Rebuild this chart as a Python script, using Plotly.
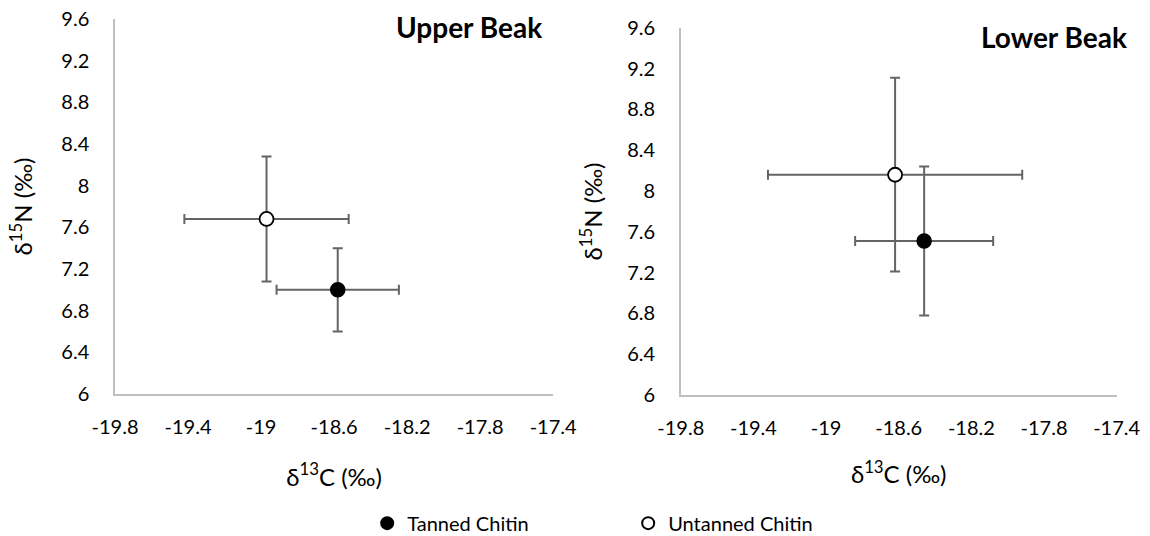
import plotly.graph_objects as go

# ---- data ----
series_names = ["Tanned Chitin", "Untanned Chitin"]

upper_c = [-18.58, -18.97]
upper_n = [7.00, 7.68]
upper_c_err = [0.335, 0.45]
upper_n_err = [0.40, 0.60]

lower_c = [-18.46, -18.62]
lower_n = [7.51, 8.16]
lower_c_err = [0.38, 0.70]
lower_n_err = [0.73, 0.95]

x_ticks = [-19.8, -19.4, -19.0, -18.6, -18.2, -17.8, -17.4]
x_tick_text = ["-19.8", "-19.4", "-19", "-18.6", "-18.2", "-17.8", "-17.4"]
y_ticks = [6.0, 6.4, 6.8, 7.2, 7.6, 8.0, 8.4, 8.8, 9.2, 9.6]
y_tick_text = ["6", "6.4", "6.8", "7.2", "7.6", "8", "8.4", "8.8", "9.2", "9.6"]

panel_titles = ["Upper Beak", "Lower Beak"]
x_title = "δ<sup>13</sup>C (‰)"
y_title = "δ<sup>15</sup>N (‰)"

FONT = "Lato"
ERR_COLOR = "#646464"
AXIS_COLOR = "#bfbfbf"

marker_styles = [
    dict(color="black", size=14, line=dict(color="black", width=1.5)),
    dict(color="white", size=14, line=dict(color="black", width=1.8)),
]

fig = go.Figure()

panels = [
    (upper_c, upper_n, upper_c_err, upper_n_err, "x", "y"),
    (lower_c, lower_n, lower_c_err, lower_n_err, "x2", "y2"),
]

for p, (cx, ny, cerr, nerr, xa, ya) in enumerate(panels):
    for i, name in enumerate(series_names):
        fig.add_trace(go.Scatter(
            x=[cx[i]], y=[ny[i]],
            mode="markers",
            name=name,
            legendgroup=name,
            showlegend=(p == 0),
            marker=marker_styles[i],
            error_x=dict(type="data", array=[cerr[i]], color=ERR_COLOR,
                         thickness=2, width=5),
            error_y=dict(type="data", array=[nerr[i]], color=ERR_COLOR,
                         thickness=2, width=5),
            xaxis=xa, yaxis=ya,
        ))


def x_axis(standoff):
    return dict(
        range=[-19.8, -17.4], tickvals=x_ticks, ticktext=x_tick_text,
        showgrid=False, zeroline=False, showline=True, linecolor=AXIS_COLOR,
        linewidth=1.5, ticks="", ticklabelstandoff=14, automargin=False,
        tickfont=dict(family=FONT, size=20, color="black"),
        title=dict(text=x_title, font=dict(family=FONT, size=24, color="black"),
                   standoff=standoff),
    )


def y_axis(standoff):
    return dict(
        range=[6, 9.6], tickvals=y_ticks, ticktext=y_tick_text,
        showgrid=False, zeroline=False, showline=True, linecolor=AXIS_COLOR,
        linewidth=1.5, ticks="", ticklabelstandoff=20, automargin=False,
        tickfont=dict(family=FONT, size=20, color="black"),
        title=dict(text=y_title, font=dict(family=FONT, size=24, color="black"),
                   standoff=standoff),
    )


fig.update_layout(
    width=1150, height=536, autosize=False,
    margin=dict(l=0, r=0, t=0, b=0, autoexpand=False),
    paper_bgcolor="white", plot_bgcolor="white",
    xaxis=dict(domain=[0.100, 0.481], anchor="y", **x_axis(32)),
    yaxis=dict(domain=[0.265, 0.9646], anchor="x", **y_axis(22)),
    xaxis2=dict(domain=[0.592, 0.971], anchor="y2", **x_axis(28)),
    yaxis2=dict(domain=[0.263, 0.948], anchor="x2", **y_axis(18)),
    showlegend=True,
    legend=dict(orientation="h", x=0.3193, xanchor="left", y=0.024,
                yanchor="middle", entrywidth=216, entrywidthmode="pixels",
                font=dict(family=FONT, size=20, color="black"),
                bgcolor="rgba(0,0,0,0)", itemsizing="constant"),
    annotations=[
        dict(text="<b>%s</b>" % panel_titles[0], x=0.4074, y=0.9496,
             xref="paper", yref="paper", showarrow=False,
             font=dict(family=FONT, size=28, color="black"),
             xanchor="center", yanchor="middle"),
        dict(text="<b>%s</b>" % panel_titles[1], x=0.9165, y=0.931,
             xref="paper", yref="paper", showarrow=False,
             font=dict(family=FONT, size=28, color="black"),
             xanchor="center", yanchor="middle"),
    ],
)

fig.write_html("out.html")
